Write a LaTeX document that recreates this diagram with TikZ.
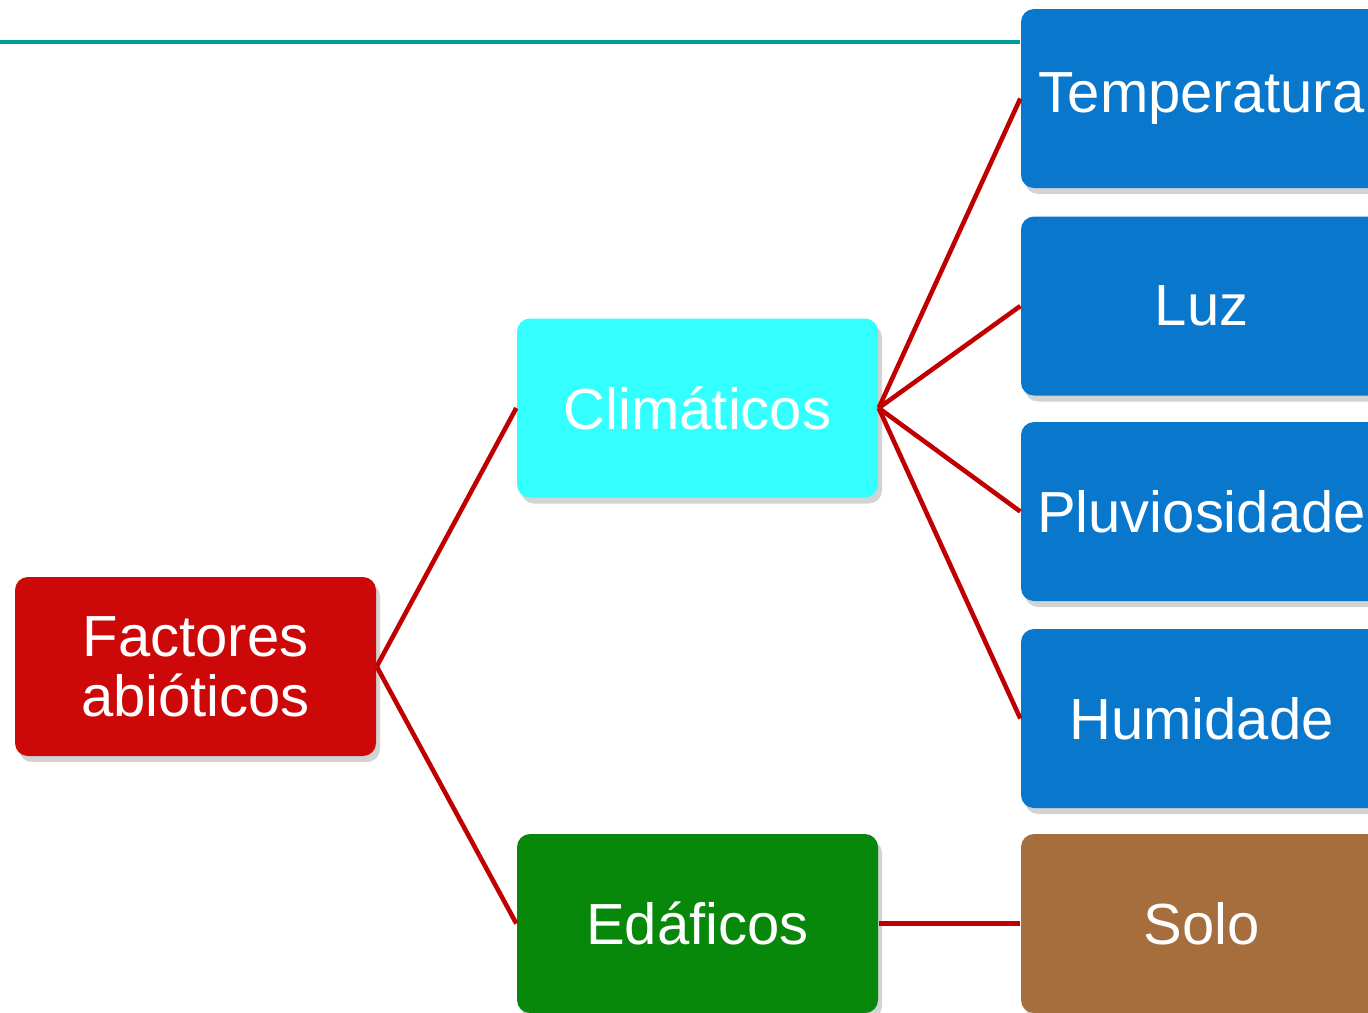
\documentclass[tikz,border=0pt]{standalone}
\usepackage{fontspec}
\setmainfont{Liberation Sans}
\usepackage{tikz}
\usetikzlibrary{shadows,positioning,calc}

\definecolor{boxred}{RGB}{204,8,8}
\definecolor{boxcyan}{RGB}{51,255,255}
\definecolor{boxgreen}{RGB}{8,136,10}
\definecolor{boxblue}{RGB}{8,119,204}
\definecolor{boxbrown}{RGB}{165,110,60}
\definecolor{linkred}{RGB}{192,0,0}
\definecolor{topteal}{RGB}{0,155,155}

\begin{document}
\begin{tikzpicture}[
    factor/.style={rectangle, rounded corners=0.13cm, minimum width=3.61cm, minimum height=1.79cm,
        inner sep=0pt, text=white, align=center, font=\fontsize{16.5}{17}\selectfont,
        drop shadow={shadow xshift=0.04cm, shadow yshift=-0.06cm, opacity=0.35}},
    link/.style={linkred, line width=1.3pt}
]
    \useasboundingbox (0,0) rectangle (13.68,-10.12);
    \clip (0,0) rectangle (13.68,-10.12);

    % Top rule
    \coordinate (ruleStart) at (0,-0.42);

    % Root
    \node[factor, fill=boxred] (abiotic) at (1.955,-6.665) {Factores\\abióticos};

    % Second level
    \node[factor, fill=boxcyan] (clima) at (6.975,-4.08) {Climáticos};
    \node[factor, fill=boxgreen] (edafo) at (6.975,-9.235) {Edáficos};

    % Third level
    \node[factor, fill=boxblue] (temp) at (12.015,-0.985) {Temperatura};
    \node[factor, fill=boxblue] (luz) at (12.015,-3.06) {Luz};
    \node[factor, fill=boxblue] (chuva) at (12.015,-5.115) {Pluviosidade};
    \node[factor, fill=boxblue] (humid) at (12.015,-7.185) {Humidade};
    \node[factor, fill=boxbrown] (solo) at (12.015,-9.235) {Solo};

    \draw[topteal, line width=1.15pt] (ruleStart) -- (ruleStart -| temp.west);

    % Connectors
    \draw[link] (abiotic.east) -- (clima.west);
    \draw[link] (abiotic.east) -- (edafo.west);
    \foreach \leaf in {temp, luz, chuva, humid}
        \draw[link] (clima.east) -- (\leaf.west);
    \draw[link] (edafo.east) -- (solo.west);
\end{tikzpicture}
\end{document}
